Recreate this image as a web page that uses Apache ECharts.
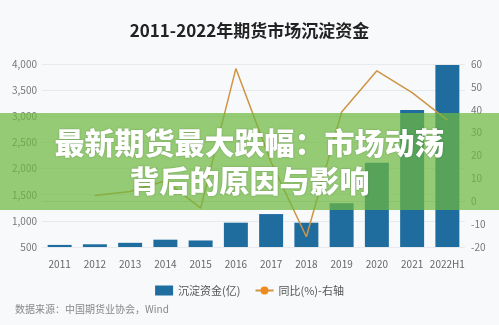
<!DOCTYPE html>
<html>
<head>
<meta charset="utf-8">
<script src="https://cdn.jsdelivr.net/npm/echarts@6/dist/echarts.min.js"></script>
<style>
html,body{margin:0;padding:0;background:#f8f9fb;}
#c{width:499px;height:325px;}
</style>
</head>
<body>
<div id="c"></div>
<script>
var categories = ['2011','2012','2013','2014','2015','2016','2017','2018','2019','2020','2021','2022H1'];
var funds = [540, 552, 580, 640, 625, 965, 1130, 965, 1335, 2110, 3120, 3980];
var yoy = [null, 2.5, 4.3, 9, -3, 58, 17, -15.5, 39, 57, 47.5, 35.5];
var leftTicks = {min: 500, max: 4000, interval: 500};
var rightTicks = {min: -20, max: 60, interval: 10};
var titleText = '2011-2022年期货市场沉淀资金';
var sourceText = '数据来源：中国期货业协会，Wind';
var bannerLines = ['最新期货最大跌幅：市场动荡', '背后的原因与影响'];

var chart = echarts.init(document.getElementById('c'));
var font = "'Noto Sans CJK SC', 'Noto Sans', sans-serif";
chart.setOption({
  backgroundColor: '#f8f9fb',
  textStyle: {fontFamily: font},
  title: {
    text: titleText, left: 'center', top: 17,
    textStyle: {fontSize: 17, fontWeight: 'bold', color: '#222', fontFamily: font}
  },
  legend: {
    top: 280, left: 'center', itemWidth: 18, itemHeight: 10, itemGap: 14,
    textStyle: {fontSize: 11, color: '#555'},
    data: [
      {name: '沉淀资金(亿)', icon: 'rect'},
      {name: '同比(%)-右轴'}
    ]
  },
  grid: {left: 42, right: 34, top: 64, bottom: 78},
  xAxis: {
    type: 'category', data: categories,
    axisLine: {lineStyle: {color: '#d8dce2'}},
    axisTick: {show: false},
    axisLabel: {fontSize: 10, color: '#666', margin: 12, interval: 0}
  },
  yAxis: [
    {
      type: 'value', min: leftTicks.min, max: leftTicks.max, interval: leftTicks.interval,
      axisLine: {show: false}, axisTick: {show: false},
      axisLabel: {fontSize: 10, color: '#777', margin: 5,
        formatter: function(v){ return v.toLocaleString('en-US'); }},
      splitLine: {lineStyle: {color: '#e6e9ee'}}
    },
    {
      type: 'value', min: rightTicks.min, max: rightTicks.max, interval: rightTicks.interval,
      position: 'right',
      axisLine: {show: false}, axisTick: {show: false},
      axisLabel: {fontSize: 10, color: '#777', margin: 6},
      splitLine: {show: false}
    }
  ],
  series: [
    {
      name: '沉淀资金(亿)', type: 'bar', data: funds, barWidth: '68%',
      itemStyle: {color: '#1f6d9f'}
    },
    {
      name: '同比(%)-右轴', type: 'line', yAxisIndex: 1, data: yoy,
      showSymbol: false, symbol: 'circle', symbolSize: 8,
      lineStyle: {color: '#cf9444', width: 1.5},
      itemStyle: {color: '#ef8a1c'}
    }
  ],
  graphic: [
    {
      type: 'text', left: 15, top: 304,
      style: {text: sourceText, fontSize: 10, fill: '#888', fontFamily: font}
    },
    {
      type: 'rect', z: 100, shape: {x: 0, y: 113, width: 499, height: 97},
      style: {fill: 'rgba(110,184,64,0.72)'}
    },
    {
      type: 'text', z: 101, left: 'center', top: 128,
      style: {text: bannerLines[0], fontSize: 30, fontWeight: 900, fill: '#fff',
        fontFamily: font, textShadowColor: 'rgba(0,0,0,0.25)', textShadowBlur: 2}
    },
    {
      type: 'text', z: 101, left: 'center', top: 166,
      style: {text: bannerLines[1], fontSize: 30, fontWeight: 900, fill: '#fff',
        fontFamily: font, textShadowColor: 'rgba(0,0,0,0.25)', textShadowBlur: 2}
    }
  ]
});
</script>
</body>
</html>
